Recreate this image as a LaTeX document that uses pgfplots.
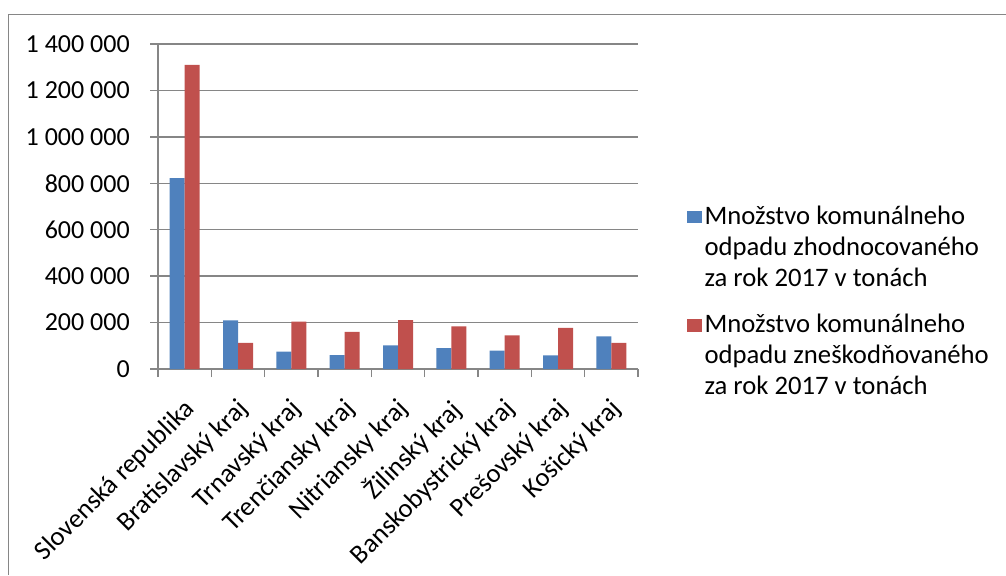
\documentclass[border=0pt]{standalone}
\usepackage{pgfplots}
\pgfplotsset{compat=1.18}
\usepackage{fontspec}
\setmainfont{Carlito}
\definecolor{xblue}{HTML}{4F81BD}
\definecolor{xred}{HTML}{C0504D}
\definecolor{xgrid}{HTML}{868686}
\pgfplotstableread{
x zhod znes
0 822000 1310000
1 210000 113000
2 75000 204000
3 60000 160000
4 102000 211000
5 90000 184000
6 79000 145000
7 59000 177000
8 141000 113000
}\datatable
\begin{document}
\fontsize{19.5}{23.25}\selectfont
\begin{tikzpicture}[x=0.75pt,y=0.75pt]
\useasboundingbox (0,0) rectangle (1006,575);
\draw[xgrid, line width=1.1pt] (8.5,0) -- (8.5,560.5) -- (1006,560.5);
\begin{axis}[
  at={(118.5pt,154.5pt)}, anchor=south west,
  scale only axis, width=360pt, height=243.75pt,
  ybar=0pt, bar width=11.25pt,
  xmin=-0.5, xmax=8.5, ymin=0, ymax=1400000,
  scaled y ticks=false,
  axis line style={xgrid, line width=1.1pt},
  axis x line*=bottom, axis y line*=left,
  tick align=outside, major tick length=6pt,
  tick style={xgrid, line width=1.1pt},
  ymajorgrids, grid style={xgrid, line width=1.1pt},
  ytick={0,200000,400000,600000,800000,1000000,1200000,1400000},
  yticklabels={0,200 000,400 000,600 000,800 000,1 000 000,1 200 000,1 400 000},
  yticklabel style={anchor=east, inner sep=0pt, xshift=-15pt},
  xtick={-0.5,0.5,1.5,2.5,3.5,4.5,5.5,6.5,7.5,8.5},
  xticklabels={},
  extra x ticks={0,1,2,3,4,5,6,7,8},
  extra x tick labels={Slovenská republika,Bratislavský kraj,Trnavský kraj,Trenčiansky kraj,Nitriansky kraj,Žilinský kraj,Banskobystrický kraj,Prešovský kraj,Košický kraj},
  extra x tick style={tick style={draw=none}, grid=none,
     xticklabel style={xshift=4.6pt, yshift=-21.25pt, rotate=45, anchor=east, inner sep=0pt,
       font=\fontsize{20}{23.25}\selectfont}},
  legend style={at={(1.1021,0.511)}, anchor=north west, draw=none, inner sep=0pt,
     row sep=14pt, cells={anchor=west, align=left, inner sep=0pt},
     font=\fontsize{20}{23.25}\selectfont,
     /tikz/every even column/.append style={column sep=6pt}},
  legend image code/.code={\fill[#1,draw=none] (0pt,18.5pt) rectangle (11pt,28pt);},
]
\addplot[fill=xblue, draw=none] table[x=x, y=zhod] {\datatable};
\addlegendentry{Množstvo komunálneho\\odpadu zhodnocovaného\\za rok 2017 v tonách}
\addplot[fill=xred, draw=none] table[x=x, y=znes] {\datatable};
\addlegendentry{Množstvo komunálneho\\odpadu zneškodňovaného\\za rok 2017 v tonách}
\end{axis}
\end{tikzpicture}
\end{document}
